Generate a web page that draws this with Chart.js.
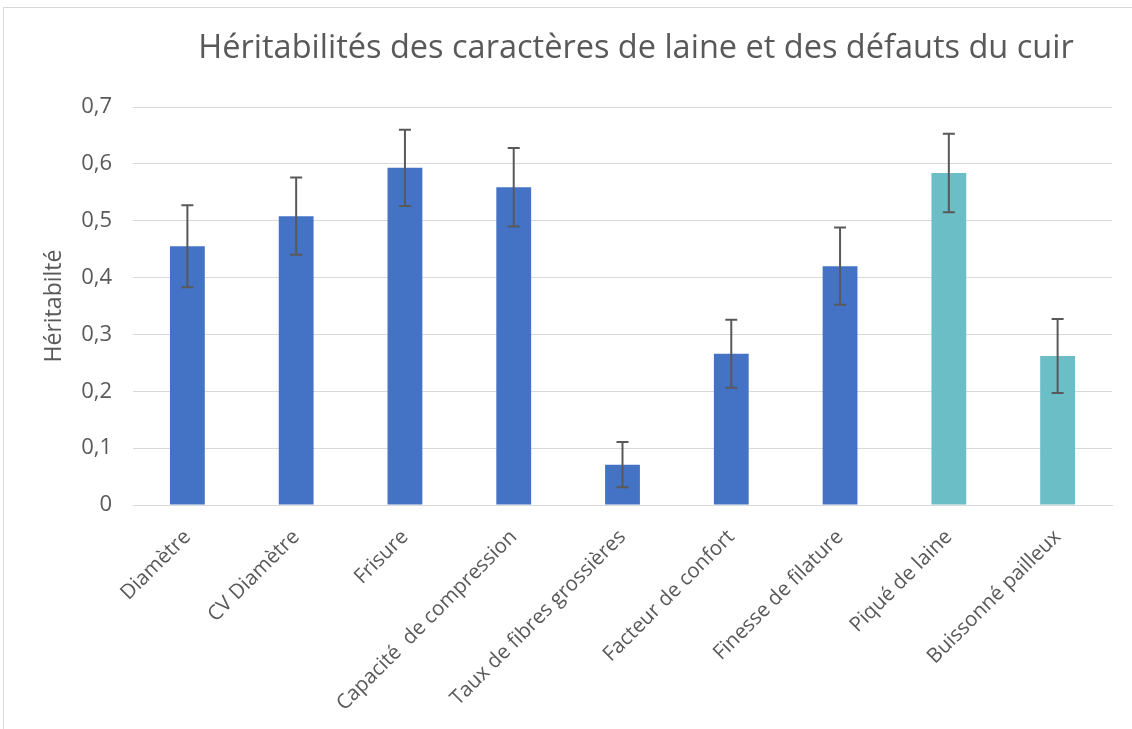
<!DOCTYPE html>
<html>
<head>
<meta charset="utf-8">
<script src="https://cdn.jsdelivr.net/npm/chart.js@4/dist/chart.umd.min.js"></script>
<style>
  html, body { margin: 0; padding: 0; background: #ffffff; }
  #wrap { position: relative; width: 1132px; height: 729px; overflow: hidden; }
  #frame { position: absolute; left: 3px; top: 7px; width: 1140px; height: 740px; border: 1px solid #d9d9d9; box-sizing: border-box; }
  canvas { position: absolute; left: 0; top: 0; }
</style>
</head>
<body>
<div id="wrap">
  <div id="frame"></div>
  <canvas id="c" width="1132" height="729"></canvas>
</div>
<script>
const chartTitle = "Héritabilités des caractères de laine et des défauts du cuir";
const yAxisTitle = "Héritabilté";
const categories = [
  "Diamètre",
  "CV Diamètre",
  "Frisure",
  "Capacité  de compression",
  "Taux de fibres grossières",
  "Facteur de confort",
  "Finesse de filature",
  "Piqué de laine",
  "Buissonné pailleux"
];
const heritability = [0.455, 0.508, 0.593, 0.559, 0.071, 0.266, 0.420, 0.584, 0.262];
const errorMargin  = [0.072, 0.068, 0.067, 0.069, 0.040, 0.060, 0.068, 0.069, 0.065];
const traitGroup   = ["laine","laine","laine","laine","laine","laine","laine","cuir","cuir"];
const groupColors  = { laine: "#4472C4", cuir: "#6BBDC6" };

const FONT = "'Open Sans', 'DejaVu Sans', sans-serif";
const TEXT = "#595959";

const errorBarPlugin = {
  id: "errorBars",
  afterDatasetsDraw(chart) {
    const meta = chart.getDatasetMeta(0);
    const y = chart.scales.y;
    const ctx = chart.ctx;
    ctx.save();
    ctx.strokeStyle = "#595959";
    ctx.lineWidth = 2;
    meta.data.forEach((bar, i) => {
      const v = heritability[i], e = errorMargin[i];
      const yTop = y.getPixelForValue(v + e);
      const yBot = y.getPixelForValue(v - e);
      const x = bar.x;
      const cap = 6;
      ctx.beginPath();
      ctx.moveTo(x, yTop); ctx.lineTo(x, yBot);
      ctx.moveTo(x - cap, yTop); ctx.lineTo(x + cap, yTop);
      ctx.moveTo(x - cap, yBot); ctx.lineTo(x + cap, yBot);
      ctx.stroke();
    });
    ctx.restore();
  }
};

const titlePlugin = {
  id: "customTitle",
  afterDraw(chart) {
    const ctx = chart.ctx;
    ctx.save();
    ctx.font = "32.5px " + FONT;
    ctx.fillStyle = TEXT;
    ctx.textAlign = "center";
    ctx.textBaseline = "middle";
    ctx.fillText(chartTitle, 636, 49);
    ctx.restore();
  }
};

new Chart(document.getElementById("c"), {
  type: "bar",
  data: {
    labels: categories,
    datasets: [{
      data: heritability,
      backgroundColor: traitGroup.map(g => groupColors[g]),
      borderWidth: 0,
      barPercentage: 0.32,
      categoryPercentage: 1.0
    }]
  },
  options: {
    responsive: false,
    animation: false,
    devicePixelRatio: 1,
    layout: { padding: { top: 107, right: 20, left: 0, bottom: 0 } },
    plugins: { legend: { display: false }, tooltip: { enabled: false }, title: { display: false } },
    scales: {
      x: {
        grid: { display: false },
        border: { display: true, color: "#d9d9d9", width: 1 },
        ticks: {
          autoSkip: false, maxRotation: 45, minRotation: 45,
          color: TEXT, font: { family: FONT, size: 20.5 }, padding: 12
        },
        afterFit(scale) { scale.height = 729 - 505; }
      },
      y: {
        min: 0, max: 0.7,
        grid: { color: "#d9d9d9", lineWidth: 1, drawTicks: false },
        border: { display: false },
        ticks: {
          stepSize: 0.1, color: TEXT, font: { family: FONT, size: 22 }, padding: 21,
          callback: v => v === 0 ? "0" : v.toFixed(1).replace(".", ",")
        },
        title: {
          display: true, text: yAxisTitle, color: TEXT,
          font: { family: FONT, size: 23 }, padding: { top: 41, bottom: 0 }
        },
        afterFit(scale) { scale.width = 133; }
      }
    }
  },
  plugins: [errorBarPlugin, titlePlugin]
});
</script>
</body>
</html>
